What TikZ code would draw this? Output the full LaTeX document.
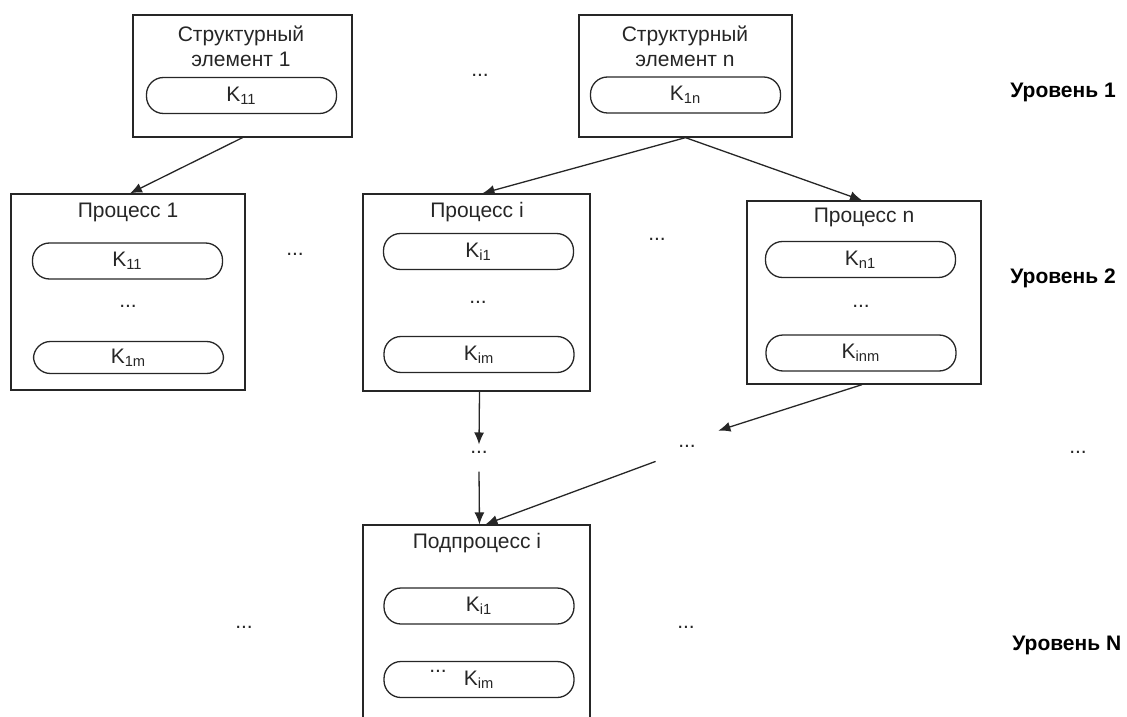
\documentclass[tikz,border=0pt]{standalone}
\usepackage{fontspec}
\setmainfont{Liberation Sans}
\usetikzlibrary{arrows.meta}

\begin{document}
\begin{tikzpicture}[x=0.5pt,y=-0.5pt]
        \tikzstyle{every node}=[font=\fontsize{10.5}{12.5}\selectfont,inner sep=1pt,text=black!85]
        \tikzstyle{box}=[draw=black!85,line width=0.65pt]
        \tikzstyle{pill}=[draw=black!85,line width=0.65pt,rounded corners=8.5pt,minimum width=95pt,minimum height=18pt]
        \tikzstyle{arrow}=[draw=black!85,line width=0.65pt,-{Latex[length=6pt,width=5pt]}]
        \tikzstyle{level}=[font=\fontsize{10.5}{12.5}\selectfont\bfseries,anchor=west,text=black]
        \clip (0,0) rectangle (1127,716);
        % level 1
        \node[box,minimum width=109.5pt,minimum height=61pt] (se1) at (242.5,76) {};
        \node[align=center] (se1t) at (241,46) {Структурный\\элемент 1};
        \node[pill] (se1k) at (241.5,95.5) {K\textsubscript{11}};
        \node[box,minimum width=106.5pt,minimum height=61pt] (sen) at (685.5,76) {};
        \node[align=center] (sent) at (685,46) {Структурный\\элемент n};
        \node[pill] (senk) at (685.5,95) {K\textsubscript{1n}};
        \node (d1) at (480,75) {...};
        % level 2
        \node[box,minimum width=117pt,minimum height=98pt] (p1) at (128,292) {};
        \node (p1t) at (128,212) {Процесс 1};
        \node[pill] (p1a) at (127.5,261) {K\textsubscript{11}};
        \node (p1d) at (128,306) {...};
        \node[pill,minimum height=16pt] (p1b) at (128.5,357.5) {K\textsubscript{1m}};
        \node[box,minimum width=113.5pt,minimum height=98.5pt] (pi) at (476.5,292.5) {};
        \node (pit) at (477,212) {Процесс i};
        \node[pill] (pia) at (478.5,251.5) {K\textsubscript{i1}};
        \node (pid) at (478,302) {...};
        \node[pill] (pib) at (479,354.5) {K\textsubscript{im}};
        \node[box,minimum width=117pt,minimum height=91.5pt] (pn) at (864,292.5) {};
        \node (pnt) at (864,217) {Процесс n};
        \node[pill] (pna) at (860.5,259.5) {K\textsubscript{n1}};
        \node (pnd) at (861,306) {...};
        \node[pill] (pnb) at (861,353) {K\textsubscript{inm}};
        \node (d2) at (295,254) {...};
        \node (d3) at (657,239) {...};
        % between levels
        \node (dm) at (479,452) {...};
        \node[minimum width=31pt,minimum height=15pt] (dr) at (687,446) {...};
        \node (dx) at (1078,452) {...};
        % level N
        \node[box,minimum width=113.5pt,minimum height=150pt] (sub) at (476.5,675) {};
        \node (subt) at (477,543) {Подпроцесс i};
        \node[pill] (suba) at (479,606) {K\textsubscript{i1}};
        \node[pill] (subb) at (479,679.5) {K\textsubscript{im}};
        \node (subd) at (438,671) {...};
        \node (d4) at (244,627) {...};
        \node (d5) at (686,627) {...};
        % levels
        \node[level] (lv1) at (1008,92) {Уровень 1};
        \node[level] (lv2) at (1008,278) {Уровень 2};
        \node[level] (lvn) at (1010,645) {Уровень N};
        % arrows
        \draw[arrow] (se1.south) -- ([xshift=1pt]p1.north);
        \draw[arrow] (sen.south) -- ([xshift=3pt]pi.north);
        \draw[arrow] (sen.south) -- ([xshift=-1pt]pn.north);
        \draw[arrow] ([xshift=1.5pt]pi.south) -- ([yshift=2pt]dm.north);
        \draw[arrow] ([yshift=-8pt]dm.south) -- ([xshift=1.5pt]sub.north);
        \draw[arrow] ([xshift=-1pt]pn.south) -- (dr.north east);
        \draw[arrow] (dr.south west) -- ([xshift=4.5pt]sub.north);
    \end{tikzpicture}
\end{document}
